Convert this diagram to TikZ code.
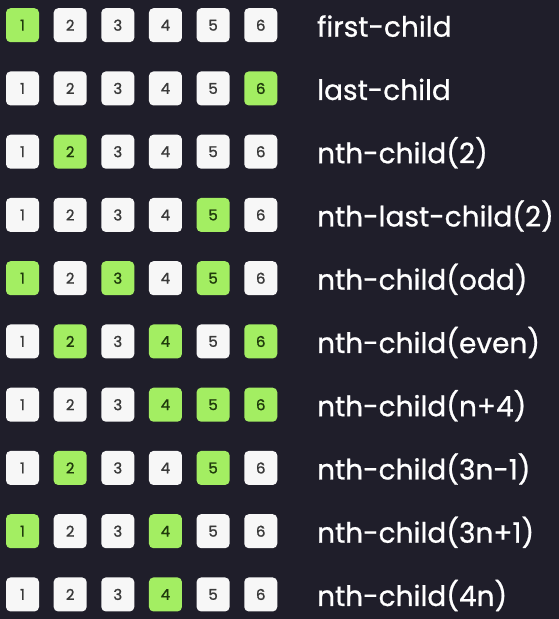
\documentclass[tikz,border=0pt]{standalone}
\usepackage{fontspec}
\setmainfont{Poppins}
\newfontfamily\lblfont{Poppins}[FakeBold=0.8]
\newfontfamily\digfont{Poppins}[FakeBold=1.2]
\definecolor{bg}{HTML}{1F1E2A}
\definecolor{hitgreen}{HTML}{A3EE62}
\definecolor{cellwhite}{HTML}{F7F7F7}
\definecolor{digitgray}{HTML}{3A3A3A}
\definecolor{digitgreen}{HTML}{1F3A0C}
\tikzset{
  cell/.style={draw=none, fill=cellwhite, rounded corners=4.5pt, minimum width=33pt, minimum height=34pt,
    inner sep=0pt, text=digitgray, font=\digfont\fontsize{15}{15}\selectfont},
  hit/.style={cell, fill=hitgreen, text=digitgreen},
  lbl/.style={anchor=base west, inner sep=0pt, text=white, font=\lblfont\fontsize{28}{28}\selectfont}
}
\newcommand\cssrow[3]{%
  \foreach \f [count=\c] in {#3} {
    \ifnum\f=1 \def\sty{hit}\else\def\sty{cell}\fi
    \node[style=\sty] (b#1-\c) at ({22.5+47.65*(\c-1)}, {25.2+63.25*(#1-1)}) {\c};
  }
  \node[lbl] (l#1) at (317, {25.2+63.25*(#1-1)+11.5}) {#2};
}
\begin{document}
\begin{tikzpicture}[x=1pt, y=-1pt]
  \fill[bg] (0,0) rectangle (559,619);
  \useasboundingbox (0,0) rectangle (559,619);
  \cssrow{1}{first-child}{1,0,0,0,0,0}
  \cssrow{2}{last-child}{0,0,0,0,0,1}
  \cssrow{3}{nth-child(2)}{0,1,0,0,0,0}
  \cssrow{4}{nth-last-child(2)}{0,0,0,0,1,0}
  \cssrow{5}{nth-child(odd)}{1,0,1,0,1,0}
  \cssrow{6}{nth-child(even)}{0,1,0,1,0,1}
  \cssrow{7}{nth-child(n+4)}{0,0,0,1,1,1}
  \cssrow{8}{nth-child(3n-1)}{0,1,0,0,1,0}
  \cssrow{9}{nth-child(3n+1)}{1,0,0,1,0,0}
  \cssrow{10}{nth-child(4n)}{0,0,0,1,0,0}
\end{tikzpicture}
\end{document}
